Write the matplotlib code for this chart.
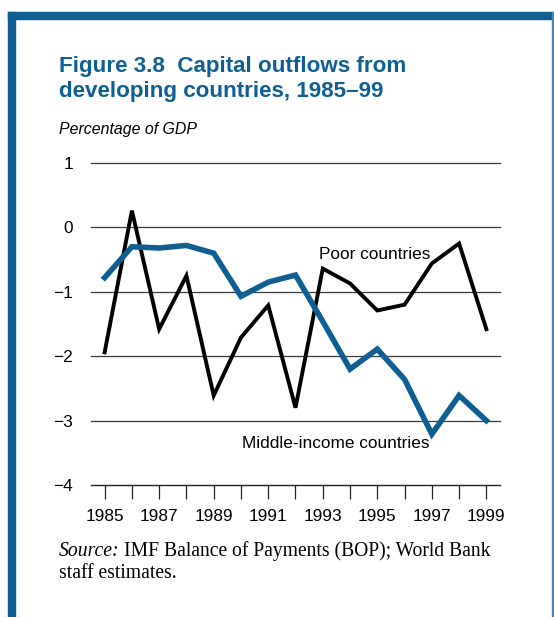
import matplotlib
matplotlib.use("Agg")
import matplotlib.pyplot as plt
from matplotlib.patches import Rectangle

years = list(range(1985, 2000))
poor = [-1.94, 0.26, -1.58, -0.75, -2.61, -1.71, -1.21, -2.80, -0.64, -0.87,
        -1.29, -1.20, -0.56, -0.25, -1.58]
middle = [-0.78, -0.30, -0.32, -0.28, -0.40, -1.07, -0.85, -0.74, -1.46, -2.20,
          -1.89, -2.36, -3.21, -2.61, -3.00]
yticks = [1, 0, -1, -2, -3, -4]
ytick_labels = ["1", "0", "\u22121", "\u22122", "\u22123", "\u22124"]

BLUE = "#0f5f92"
W, H = 554, 617
fig = plt.figure(figsize=(W / 100, H / 100), dpi=100)

def px(x0, y0, w, h):
    return [x0 / W, 1 - (y0 + h) / H, w / W, h / H]

# frame
fig.patches.append(Rectangle((8 / W, 1 - 19 / H), (W - 8) / W, 7 / H,
                             transform=fig.transFigure, color=BLUE, zorder=0))
fig.patches.append(Rectangle((8 / W, 0), 6.5 / W, 1 - 12 / H,
                             transform=fig.transFigure, color=BLUE, zorder=0))
fig.patches.append(Rectangle((551.8 / W, 0), 1.4 / W, 1 - 12 / H,
                             transform=fig.transFigure, color="#4a86b0", zorder=0))

sans = ["Liberation Sans", "DejaVu Sans"]
serif = ["Liberation Serif", "DejaVu Serif"]

fig.text(59 / W, 1 - 72 / H, "Figure 3.8  Capital outflows from", family=sans,
         weight="bold", size=16.1, color=BLUE, va="baseline")
fig.text(59 / W, 1 - 97 / H, "developing countries, 1985\u201399", family=sans,
         weight="bold", size=16.1, color=BLUE, va="baseline")
fig.text(59 / W, 1 - 134 / H, "Percentage of GDP", family=sans, style="italic",
         size=11.4, color="black", va="baseline")

ax = fig.add_axes(px(91, 163, 409, 322))
ax.set_xlim(1984.5, 1999.5)
ax.set_ylim(-4, 1)
for s in ax.spines.values():
    s.set_visible(False)
for yv in yticks:
    ax.axhline(yv, color="#222222" if yv == -4 else "#3a3a3a",
               lw=1.0 if yv == -4 else 0.9, zorder=1, clip_on=False)

ax.plot(years, poor, color="black", lw=2.8, zorder=3, solid_joinstyle="miter",
        clip_on=False)
ax.plot(years, middle, color=BLUE, lw=4.0, zorder=4, solid_joinstyle="miter",
        clip_on=False)

ax.set_yticks(yticks)
ax.set_yticklabels(ytick_labels, family=sans, size=12.4)
ax.tick_params(axis="y", length=0, pad=13)
ax.set_xticks(years)
ax.set_xticklabels([str(y) if (y - 1985) % 2 == 0 else "" for y in years],
                   family=sans, size=12.4)
ax.tick_params(axis="x", length=10, width=0.9, color="#222222", pad=7,
               direction="out")

ax.text(1992.85, -0.42, "Poor countries", family=sans, size=12.4, va="center",
        ha="left")
ax.text(1990.05, -3.35, "Middle-income countries", family=sans, size=12.4,
        va="center", ha="left")

t1 = fig.text(59 / W, 1 - 556 / H, "Source:", family=serif, style="italic",
              size=14.1, va="baseline")
fig.canvas.draw()
bb = t1.get_window_extent()
fig.text((bb.x1 + 4) / W, 1 - 556 / H, "IMF Balance of Payments (BOP); World Bank",
         family=serif, size=14.1, va="baseline")
fig.text(59 / W, 1 - 578 / H, "staff estimates.", family=serif, size=14.1,
         va="baseline")

fig.savefig("out.png", dpi=100)
